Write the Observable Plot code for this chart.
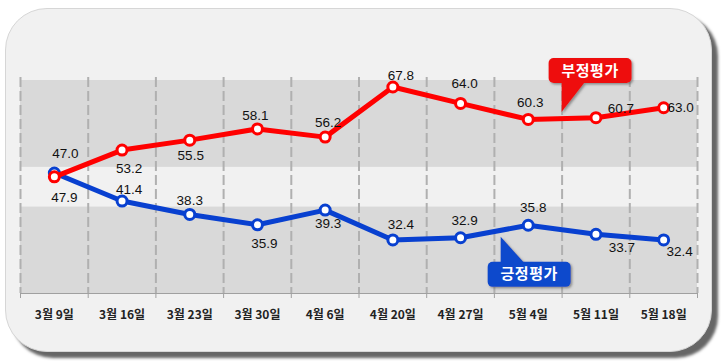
<!DOCTYPE html>
<html>
<head>
<meta charset="utf-8">
<script src="https://cdn.jsdelivr.net/npm/d3@7"></script>
<script src="https://cdn.jsdelivr.net/npm/@observablehq/plot@0.6"></script>
<style>
  html, body { margin: 0; padding: 0; background: #ffffff; }
  #wrap { position: relative; width: 728px; height: 363px; overflow: hidden; }
  #frame {
    position: absolute; left: 5px; top: 8px; width: 705px; height: 342px;
    background: #f1f1f1; border: 1px solid #d6d6d6; border-radius: 42px;
    box-shadow: 6px 6px 3px #666666;
  }
  #chart { position: absolute; left: 0; top: 0; }
</style>
</head>
<body>
<div id="wrap"><div id="frame"></div><div id="chart"></div></div>
<script>
// ---- data ----
const dates = ["3월 9일","3월 16일","3월 23일","3월 30일","4월 6일","4월 20일","4월 27일","5월 4일","5월 11일","5월 18일"];
const negative = [47.0, 53.2, 55.5, 58.1, 56.2, 67.8, 64.0, 60.3, 60.7, 63.0]; // 부정평가
const positive = [47.9, 41.4, 38.3, 35.9, 39.3, 32.4, 32.9, 35.8, 33.7, 32.4]; // 긍정평가
const seriesNames = ["부정평가", "긍정평가"];
const bandLow = [20, 49.2];   // grey background bands (value ranges)
const bandHigh = [40, 69.3];

// ---- label layout (pixel offsets of value labels) ----
const negOffsets = [[11,-23],[7,19],[1,16],[-2,-13],[3,-14],[8,-11],[4,-20],[2,-17],[25,-9],[17,0]];
const posOffsets = [[10,25],[7,-11],[0,-14],[7,19],[3,14],[8,-15],[4,-17],[5,-18],[26,13],[16,12]];

const RED = "#ff0000", BLUE = "#0840d0";
const idx = dates.map((d, i) => i);
const boundaries = d3.range(dates.length + 1).map(i => i - 0.5);
const bands = bandLow.map((lo, i) => ({lo, hi: bandHigh[i]}));

function labelMarks(values, offsets) {
  return values.map((v, i) => Plot.text([i], {
    x: d => d, y: () => v, text: () => v.toFixed(1),
    dx: offsets[i][0], dy: offsets[i][1],
    fontSize: 13.5, fill: "#111", fontFamily: "'Liberation Sans', Arial, sans-serif"
  }));
}

const plot = Plot.plot({
  width: 728, height: 363,
  marginLeft: 20, marginRight: 31, marginTop: 77, marginBottom: 70,
  style: {background: "transparent", fontFamily: "'Noto Sans CJK KR', sans-serif"},
  x: {type: "linear", domain: [-0.5, dates.length - 0.5], axis: null},
  y: {domain: [20, 70], axis: null},
  marks: [
    Plot.rect(bands, {y1: "lo", y2: "hi", fill: "#d9d9d9"}),
    Plot.ruleX(boundaries, {stroke: "#b0b0b0", strokeWidth: 2, strokeDasharray: "10,4"}),
    Plot.ruleY([20], {stroke: "#a0a0a0", strokeWidth: 1}),
    Plot.axisX(boundaries, {tickSize: 5, tickFormat: () => "", stroke: "#a0a0a0"}),
    Plot.axisX(idx, {tickSize: 0, tickPadding: 17, tickFormat: i => dates[i],
      fontSize: 12, fontWeight: 600, fill: "#222"}),
    Plot.line(idx, {x: i => i, y: i => positive[i], stroke: BLUE, strokeWidth: 5}),
    Plot.dot(idx, {x: i => i, y: i => positive[i], r: 5, fill: "white", stroke: BLUE, strokeWidth: 3}),
    Plot.line(idx, {x: i => i, y: i => negative[i], stroke: RED, strokeWidth: 5}),
    Plot.dot(idx, {x: i => i, y: i => negative[i], r: 5, fill: "white", stroke: RED, strokeWidth: 3}),
    ...labelMarks(negative, negOffsets),
    ...labelMarks(positive, posOffsets)
  ]
});
document.getElementById("chart").appendChild(plot);

// ---- callout legends ----
const sx = plot.scale("x"), sy = plot.scale("y");
const svg = d3.select(plot);
const defs = svg.append("defs");
const f = defs.append("filter").attr("id", "sh").attr("x", "-20%").attr("y", "-20%").attr("width", "150%").attr("height", "150%");
f.append("feDropShadow").attr("dx", 1.5).attr("dy", 1.5).attr("stdDeviation", 1).attr("flood-color", "#555").attr("flood-opacity", 0.6);

function callout(name, color, tipX, tipY, below) {
  const tx = sx.apply(tipX), ty = sy.apply(tipY);
  const w = 83, h = 25;
  const left = tx - 13;
  const top = below ? ty + 25 : ty - 29 - h;
  const baseY = below ? top + 0.5 : top + h - 0.5;
  const g = svg.append("g").attr("filter", "url(#sh)");
  g.append("rect").attr("x", left).attr("y", top).attr("width", w).attr("height", h)
    .attr("rx", 5).attr("fill", color);
  g.append("path").attr("d", `M${tx},${baseY} L${tx + 23},${baseY} L${tx},${ty} Z`).attr("fill", color);
  svg.append("text").attr("x", left + w / 2).attr("y", top + h / 2 + 1)
    .attr("text-anchor", "middle").attr("dominant-baseline", "middle")
    .attr("fill", "white").attr("font-weight", "bold").attr("font-size", 15)
    .attr("letter-spacing", 0.5)
    .attr("font-family", "'Noto Sans CJK KR', sans-serif").text(name);
}
callout(seriesNames[0], "#ee1010", 7.5, 61.9, false);
callout(seriesNames[1], "#0a48cc", 6.6, 33.0, true);
</script>
</body>
</html>
